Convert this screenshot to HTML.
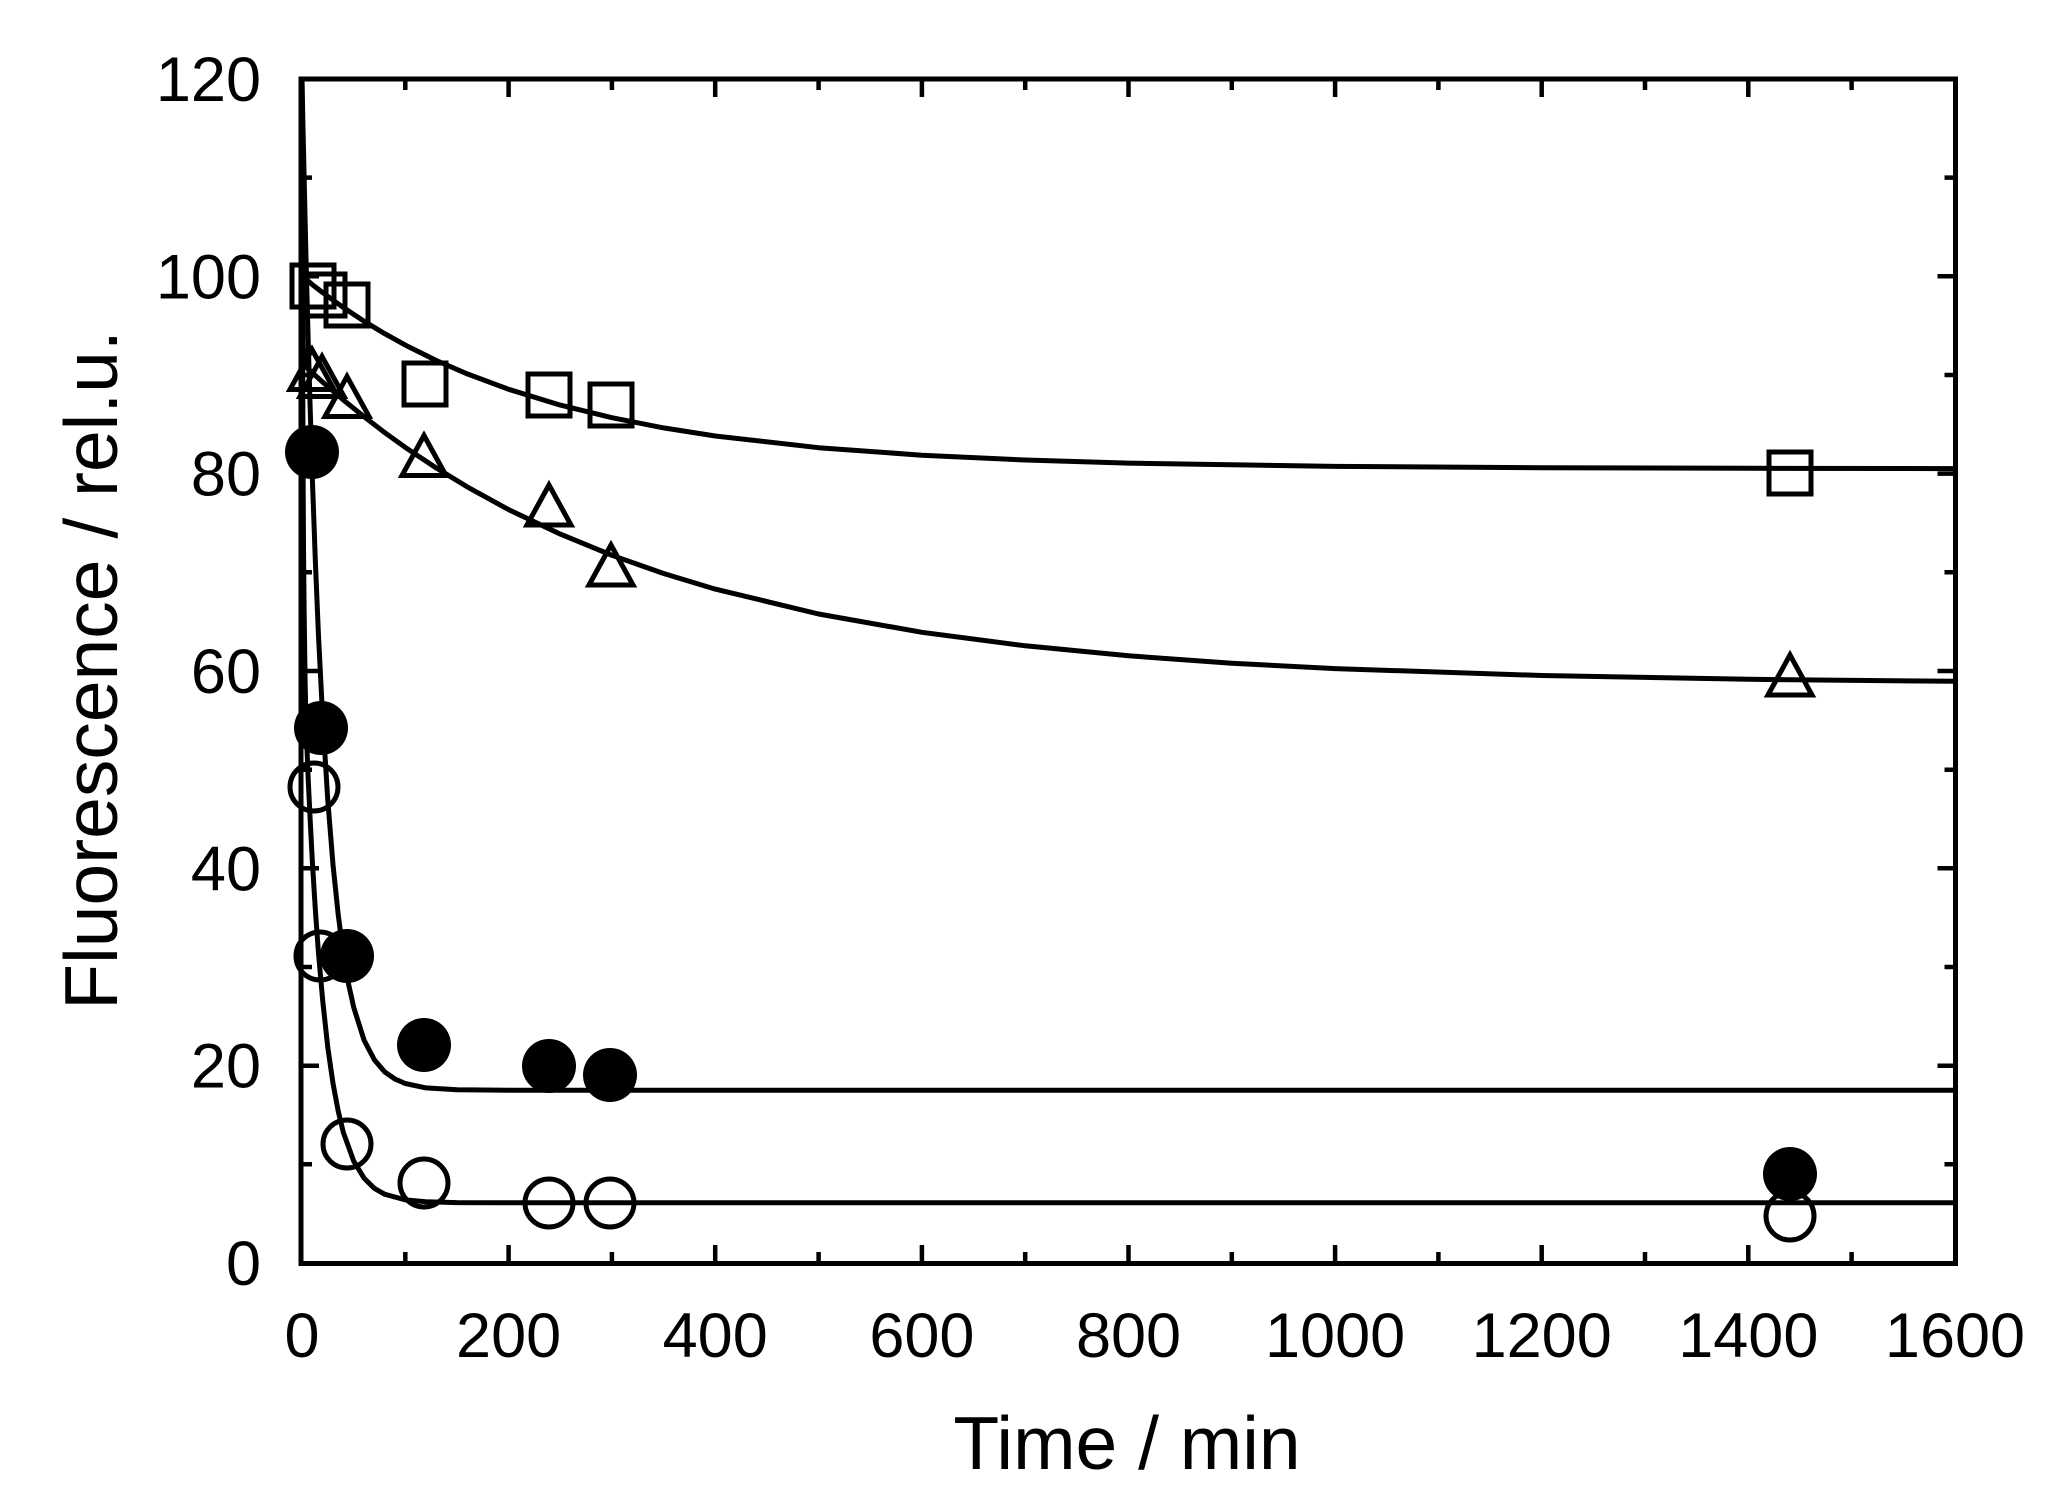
<!DOCTYPE html>
<html>
<head>
<meta charset="utf-8">
<style>
  html, body { margin: 0; padding: 0; background: #ffffff; }
  svg { display: block; }
  text { font-family: "Liberation Sans", Arial, sans-serif; fill: #000; }
</style>
</head>
<body>
<svg width="2057" height="1506" viewBox="0 0 2057 1506" xmlns="http://www.w3.org/2000/svg">
  <rect x="0" y="0" width="2057" height="1506" fill="#ffffff"/>

  <!-- fitted curves -->
  <g fill="none" stroke="#000" stroke-width="5" stroke-linejoin="round" stroke-linecap="butt">
    <!-- squares fit -->
    <polyline points="302,79 302.26,171 302.5,220.2 303,261 304.1,276.7 305.1,278.8 307.2,280.2 312.3,284.6 322.7,292.6 343.3,307.5 364,321.2 384.6,333.6 405.3,345.1 436.3,360.5 467.3,373.9 508.6,389.3 560.3,405.1 611.9,417.7 663.6,427.9 715.2,436 818.6,447.7 921.9,455.2 1025.2,460 1128.5,463.1 1335.1,466.4 1541.7,467.7 1748.3,468.3 1955,468.6"/>
    <!-- triangles fit -->
    <polyline points="302,79 302.26,211.3 302.5,282.2 303,340.8 304.1,363.2 305.1,365.9 307.2,368 312.3,372.8 322.7,382.1 343.3,399.9 364,416.7 384.6,432.5 405.3,447.4 436.3,468 467.3,486.9 508.6,509.6 560.3,534.1 611.9,555.3 663.6,573.5 715.2,589.1 818.6,614 921.9,632.3 1025.2,645.8 1128.5,655.8 1231.8,663.2 1335.1,668.6 1541.7,675.5 1748.3,679.3 1955,681.3"/>
    <!-- filled circles fit -->
    <polyline points="302,79 303,128.3 304.1,175.3 305.1,219.9 306.1,262.3 308.2,341.1 310.3,412.4 312.3,476.9 315.4,562.3 318.5,635.9 322.7,718.2 327.8,800.5 333,864.7 338.2,914.6 343.3,953.5 348.5,983.8 353.7,1007.3 364,1040 374.3,1059.7 384.6,1071.8 395,1079.1 405.3,1083.5 426,1087.9 457,1089.7 508.6,1090.3 1955,1090.3"/>
    <!-- open circles fit -->
    <polyline points="302,79 302.5,308.4 303,452.9 303.5,546.1 304.1,607.8 305.1,681 306.1,723.6 307.2,754 308.2,779.1 310.3,822.4 312.3,860.6 315.4,910.7 318.5,953.3 322.7,1000.6 327.8,1047.5 333,1083.4 338.2,1111 343.3,1132.3 353.7,1161.1 364,1178.1 374.3,1188.3 384.6,1194.2 405.3,1199.9 426,1201.7 457,1202.6 508.6,1202.8 1955,1202.8"/>
  </g>

  <!-- square markers -->
  <g fill="none" stroke="#000" stroke-width="5" stroke-linejoin="miter">
    <rect x="292" y="265" width="42" height="42"/>
    <rect x="303" y="274" width="42" height="42"/>
    <rect x="326" y="284" width="42" height="42"/>
    <rect x="404" y="363" width="42" height="42"/>
    <rect x="528" y="374" width="42" height="42"/>
    <rect x="590" y="384" width="42" height="42"/>
    <rect x="1769" y="452" width="42" height="42"/>
  </g>

  <!-- triangle markers -->
  <g fill="none" stroke="#000" stroke-width="5" stroke-linejoin="miter" stroke-miterlimit="10">
    <polygon points="312,349.5 290,389.5 334,389.5"/>
    <polygon points="322,356.5 300,396.5 344,396.5"/>
    <polygon points="347,376.5 325,416.5 369,416.5"/>
    <polygon points="424,435.5 402,475.5 446,475.5"/>
    <polygon points="549,485 527,525 571,525"/>
    <polygon points="611,545 589,585 633,585"/>
    <polygon points="1790,655 1768,695 1812,695"/>
  </g>

  <!-- open circles -->
  <g fill="none" stroke="#000" stroke-width="5">
    <circle cx="314" cy="787" r="24"/>
    <circle cx="320" cy="956" r="24"/>
    <circle cx="347" cy="1144" r="24"/>
    <circle cx="424" cy="1183" r="24"/>
    <circle cx="549" cy="1203" r="24"/>
    <circle cx="610" cy="1203" r="24"/>
    <circle cx="1790" cy="1216" r="24"/>
  </g>

  <!-- filled circles -->
  <g fill="#000" stroke="none">
    <circle cx="312" cy="452" r="27"/>
    <circle cx="321" cy="728" r="27"/>
    <circle cx="347" cy="956" r="27"/>
    <circle cx="424" cy="1045" r="27"/>
    <circle cx="549" cy="1066" r="27"/>
    <circle cx="610" cy="1075" r="27"/>
    <circle cx="1790" cy="1174" r="27"/>
  </g>

  <!-- axes frame -->
  <rect x="301" y="79" width="1654.5" height="1184.5" fill="none" stroke="#000" stroke-width="5"/>

  <!-- ticks -->
  <g stroke="#000" stroke-width="4.5" fill="none">
    <path d="M508.6,1263V1245 M715.2,1263V1245 M921.9,1263V1245 M1128.5,1263V1245 M1335.1,1263V1245 M1541.7,1263V1245 M1748.3,1263V1245"/>
    <path d="M405.3,1263V1252 M611.9,1263V1252 M818.6,1263V1252 M1025.2,1263V1252 M1231.8,1263V1252 M1438.4,1263V1252 M1645,1263V1252 M1851.6,1263V1252"/>
    <path d="M508.6,79V97 M715.2,79V97 M921.9,79V97 M1128.5,79V97 M1335.1,79V97 M1541.7,79V97 M1748.3,79V97"/>
    <path d="M405.3,79V90 M611.9,79V90 M818.6,79V90 M1025.2,79V90 M1231.8,79V90 M1438.4,79V90 M1645,79V90 M1851.6,79V90"/>
    <path d="M301,1065.7H319 M301,868.3H319 M301,671H319 M301,473.6H319 M301,276.3H319"/>
    <path d="M301,1164.3H312 M301,967H312 M301,769.7H312 M301,572.3H312 M301,375H312 M301,177.6H312"/>
    <path d="M1955.5,1065.7H1937.5 M1955.5,868.3H1937.5 M1955.5,671H1937.5 M1955.5,473.6H1937.5 M1955.5,276.3H1937.5"/>
    <path d="M1955.5,1164.3H1944.5 M1955.5,967H1944.5 M1955.5,769.7H1944.5 M1955.5,572.3H1944.5 M1955.5,375H1944.5 M1955.5,177.6H1944.5"/>
  </g>

  <!-- y tick labels -->
  <g font-size="63" text-anchor="end">
    <text x="261" y="1285">0</text>
    <text x="261" y="1087.7">20</text>
    <text x="261" y="890.3">40</text>
    <text x="261" y="693">60</text>
    <text x="261" y="495.6">80</text>
    <text x="261" y="298.3">100</text>
    <text x="261" y="101">120</text>
  </g>

  <!-- x tick labels -->
  <g font-size="63" text-anchor="middle">
    <text x="302" y="1357">0</text>
    <text x="508.6" y="1357">200</text>
    <text x="715.2" y="1357">400</text>
    <text x="921.9" y="1357">600</text>
    <text x="1128.5" y="1357">800</text>
    <text x="1335.1" y="1357">1000</text>
    <text x="1541.7" y="1357">1200</text>
    <text x="1748.3" y="1357">1400</text>
    <text x="1955" y="1357">1600</text>
  </g>

  <!-- axis titles -->
  <text x="1127" y="1469" font-size="75" text-anchor="middle">Time / min</text>
  <text transform="translate(117,670) rotate(-90)" x="0" y="0" font-size="75" text-anchor="middle">Fluorescence / rel.u.</text>
</svg>
</body>
</html>
